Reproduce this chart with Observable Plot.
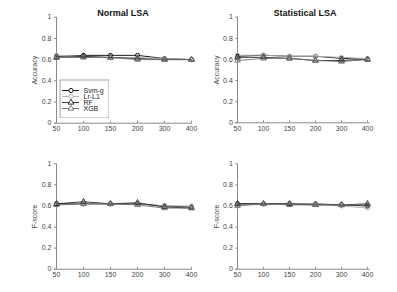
<!DOCTYPE html>
<html><head><meta charset="utf-8">
<script src="https://cdn.jsdelivr.net/npm/d3@7"></script>
<script src="https://cdn.jsdelivr.net/npm/@observablehq/plot@0.6"></script>
<style>
body{margin:0;background:#fff;font-family:"Liberation Sans",Arial,sans-serif}
#c{position:relative;width:397px;height:292px;overflow:hidden}
.p{position:absolute}
.t{position:absolute;font-weight:bold;font-size:9px;color:#111;transform:translate(-50%,-50%);white-space:nowrap}
</style></head><body><div id="c"></div>
<script>
const sizes = [50, 100, 150, 200, 300, 400];
const models = ["Svm-g", "Lr-L1", "RF", "XGB"];
const yTicks = [0, 0.2, 0.4, 0.6, 0.8, 1];

// Normal LSA - Accuracy
const normAccSvm = [0.63, 0.64, 0.64, 0.64, 0.61, 0.60];
const normAccLr  = [0.64, 0.63, 0.62, 0.62, 0.61, 0.60];
const normAccRF  = [0.62, 0.63, 0.62, 0.61, 0.60, 0.60];
const normAccXGB = [0.62, 0.62, 0.62, 0.60, 0.60, 0.60];
// Statistical LSA - Accuracy
const statAccSvm = [0.63, 0.64, 0.63, 0.63, 0.61, 0.60];
const statAccLr  = [0.64, 0.64, 0.63, 0.63, 0.62, 0.61];
const statAccRF  = [0.62, 0.62, 0.61, 0.59, 0.59, 0.60];
const statAccXGB = [0.59, 0.61, 0.61, 0.59, 0.58, 0.60];
// Normal LSA - F-score
const normFSvm = [0.62, 0.62, 0.62, 0.62, 0.60, 0.59];
const normFLr  = [0.61, 0.62, 0.62, 0.62, 0.60, 0.60];
const normFRF  = [0.62, 0.64, 0.62, 0.63, 0.59, 0.58];
const normFXGB = [0.61, 0.62, 0.62, 0.61, 0.58, 0.58];
// Statistical LSA - F-score
const statFSvm = [0.62, 0.62, 0.62, 0.62, 0.61, 0.60];
const statFLr  = [0.61, 0.62, 0.62, 0.62, 0.60, 0.58];
const statFRF  = [0.62, 0.62, 0.62, 0.61, 0.61, 0.62];
const statFXGB = [0.60, 0.62, 0.61, 0.61, 0.61, 0.61];

const colorScale = {domain: models, range: ["#000000", "#b0b0b0", "#222222", "#707070"]};
const symbolScale = {domain: models, range: ["circle", "circle", "triangle", "triangle"]};

const container = document.getElementById("c");

function panel(series, o) {
  const data = models.flatMap((m, i) => sizes.map((s, j) => ({size: s, value: series[i][j], model: m})));
  const chart = Plot.plot({
    width: o.width, height: o.height,
    marginTop: o.mt, marginBottom: o.mb, marginLeft: o.ml, marginRight: o.mr,
    style: {fontFamily: "Liberation Sans, Arial, sans-serif", fontSize: "7px", color: "#444", background: "transparent"},
    x: {type: "point", domain: sizes, padding: 0},
    y: {domain: [0, 1]},
    color: colorScale,
    symbol: symbolScale,
    marks: [
      Plot.ruleX([sizes[0]], {stroke: "#8a8a8a"}),
      Plot.ruleY([0], {stroke: "#8a8a8a"}),
      Plot.axisX({ticks: sizes, tickSize: -2, tickFormat: () => "", stroke: "#8a8a8a", label: null}),
      Plot.text(sizes, {x: d => d, frameAnchor: "bottom", dy: 8, text: d => String(d), fill: "#444"}),
      Plot.axisY({ticks: yTicks, tickSize: -2, tickPadding: 5, tickFormat: d => String(d), stroke: "#8a8a8a", fill: "#444",
                  label: o.ylabel, labelAnchor: "center", labelArrow: "none", labelOffset: o.lo}),
      Plot.line(data, {x: "size", y: "value", z: "model", stroke: "model", strokeWidth: 0.9}),
      Plot.dot(data, {x: "size", y: "value", symbol: "model", stroke: "model", fill: "none", r: 2.1, strokeWidth: 0.9})
    ]
  });
  chart.classList.add("p");
  chart.style.left = o.left + "px";
  chart.style.top = o.top + "px";
  container.appendChild(chart);
}

panel([normAccSvm, normAccLr, normAccRF, normAccXGB], {left: 0, top: 0, width: 198, height: 146, mt: 16.7, mb: 23.3, ml: 54, mr: 6, ylabel: "Accuracy", lo: 22});
panel([statAccSvm, statAccLr, statAccRF, statAccXGB], {left: 197, top: 0, width: 200, height: 146, mt: 16.7, mb: 23.7, ml: 38.3, mr: 27.3, ylabel: "Accuracy", lo: 22});
panel([normFSvm, normFLr, normFRF, normFXGB], {left: 0, top: 146, width: 198, height: 146, mt: 17.3, mb: 23.3, ml: 54, mr: 6, ylabel: "F-score", lo: 22});
panel([statFSvm, statFLr, statFRF, statFXGB], {left: 197, top: 146, width: 200, height: 146, mt: 17.3, mb: 23.3, ml: 38.3, mr: 27.3, ylabel: "F-score", lo: 22});

// titles
[["Normal LSA", 123, 12.7], ["Statistical LSA", 305, 12.7]].forEach(([txt, x, y]) => {
  const d = document.createElement("div");
  d.className = "t"; d.textContent = txt; d.style.left = x + "px"; d.style.top = y + "px";
  container.appendChild(d);
});

// legend
const legend = Plot.plot({
  width: 50, height: 39, margin: 0.5,
  style: {fontFamily: "Liberation Sans, Arial, sans-serif", fontSize: "7px", color: "#222", background: "#fff"},
  x: {domain: [0, 49], axis: null},
  y: {type: "point", domain: models, range: [7, 32], axis: null},
  color: colorScale,
  symbol: symbolScale,
  marks: [
    Plot.frame({stroke: "#8a8a8a", strokeWidth: 0.8}),
    Plot.ruleY(models, {y: d => d, x1: 2.5, x2: 19.5, stroke: d => d, strokeWidth: 0.9}),
    Plot.dot(models, {x: () => 11, y: d => d, symbol: d => d, stroke: d => d, fill: "#fff", r: 2.1, strokeWidth: 0.9}),
    Plot.text(models, {x: () => 23.5, y: d => d, text: d => d, textAnchor: "start", fill: "#222"})
  ]
});
legend.classList.add("p");
legend.style.left = "58.5px";
legend.style.top = "78.5px";
container.appendChild(legend);
</script></body></html>
